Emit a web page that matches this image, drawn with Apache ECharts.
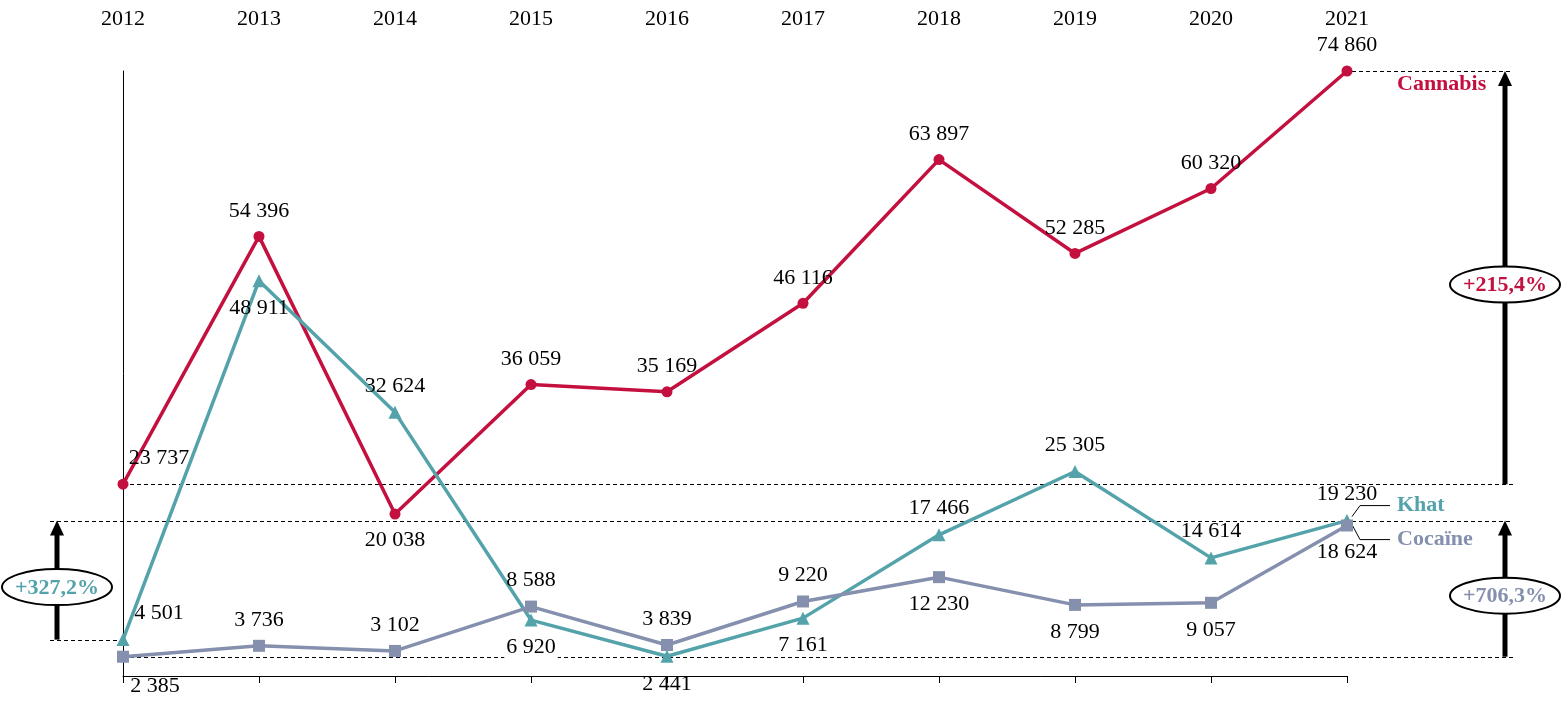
<!DOCTYPE html>
<html>
<head>
<meta charset="utf-8">
<script src="https://cdn.jsdelivr.net/npm/echarts@6.0.0/dist/echarts.min.js"></script>
<style>
html,body{margin:0;padding:0;background:#fff;}
#chart{width:1561px;height:709px;}
</style>
</head>
<body>
<div id="chart"></div>
<script>
// ---- data ----
const years = ['2012','2013','2014','2015','2016','2017','2018','2019','2020','2021'];
const cannabis = [23737, 54396, 20038, 36059, 35169, 46116, 63897, 52285, 60320, 74860];
const khat     = [4501, 48911, 32624, 6920, 2441, 7161, 17466, 25305, 14614, 19230];
const cocaine  = [2385, 3736, 3102, 8588, 3839, 9220, 12230, 8799, 9057, 18624];
const seriesNames = ['Cannabis', 'Khat', 'Cocaïne'];
const growthTexts = ['+215,4%', '+327,2%', '+706,3%'];

// ---- label placement (style, not data) ----
const cannabisLabelPos = ['tr','t','b','t','t','t','t','t','t','t'];
const khatLabelPos     = ['tr','b','t','b','b','b','t','t','t','t'];
const cocaineLabelPos  = ['br','t','t','t','t','t','b','b','b','b'];

const COL_CAN = '#C4103F';
const COL_KHAT = '#54A3AB';
const COL_COC = '#8490AD';
const FONT = '"Liberation Serif", "Times New Roman", serif';
const LBL_SIZE = 22;

function fmt(v){ return String(v).replace(/\B(?=(\d{3})+(?!\d))/g, ' '); }

function labelFor(p){
  const base = {show:true, color:'#000', fontFamily:FONT, fontSize:LBL_SIZE, formatter:(pr)=>fmt(pr.value)};
  if (p === 't') return Object.assign(base, {position:'top', distance:9});
  if (p === 'b') return Object.assign(base, {position:'bottom', distance:10});
  if (p === 'tr') return Object.assign(base, {position:'top', distance:9, offset:[36,0]});
  if (p === 'br') return Object.assign(base, {position:'bottom', distance:10, offset:[32,2]});
  return base;
}
function buildData(vals, pos, bgKeys){
  return vals.map((v,i)=>{
    const lab = labelFor(pos[i]);
    if (bgKeys && bgKeys.indexOf(i) >= 0) { lab.backgroundColor = '#fff'; lab.padding = [0,2]; }
    return {value:v, label:lab};
  });
}

const chart = echarts.init(document.getElementById('chart'), null, {renderer:'canvas'});
const yMax = Math.max.apply(null, cannabis);

chart.setOption({
  animation:false,
  backgroundColor:'#fff',
  grid:{left:123, right:214, top:71, bottom:33, containLabel:false},
  xAxis:[
    {type:'category', data:years, boundaryGap:false, position:'bottom',
     axisLine:{show:true, lineStyle:{color:'#000', width:1}},
     axisTick:{show:true, length:7, lineStyle:{color:'#000'}},
     axisLabel:{show:false}, splitLine:{show:false}},
    {type:'category', data:years, boundaryGap:false, position:'top',
     axisLine:{show:false}, axisTick:{show:false},
     axisLabel:{show:true, margin:41, color:'#000', fontFamily:FONT, fontSize:LBL_SIZE},
     splitLine:{show:false}}
  ],
  yAxis:{type:'value', min:0, max:yMax,
    axisLine:{show:true, lineStyle:{color:'#000', width:1}},
    axisTick:{show:false}, axisLabel:{show:false}, splitLine:{show:false}},
  series:[
    {name:seriesNames[0], type:'line', xAxisIndex:0, data:buildData(cannabis, cannabisLabelPos),
     symbol:'circle', symbolSize:11, lineStyle:{color:COL_CAN, width:3.5}, itemStyle:{color:COL_CAN}, z:3},
    {name:seriesNames[1], type:'line', xAxisIndex:0, data:buildData(khat, khatLabelPos, [3,5]),
     symbol:'triangle', symbolSize:13, lineStyle:{color:COL_KHAT, width:3.5}, itemStyle:{color:COL_KHAT}, z:4},
    {name:seriesNames[2], type:'line', xAxisIndex:0, data:buildData(cocaine, cocaineLabelPos),
     symbol:'rect', symbolSize:12, lineStyle:{color:COL_COC, width:3.5}, itemStyle:{color:COL_COC}, z:5}
  ]
});

// ---- annotations computed from data through the chart scales ----
const last = years.length - 1;
function px(i, v){ return chart.convertToPixel({xAxisIndex:0, yAxisIndex:0}, [years[i], v]); }
const yCanTop = px(last, cannabis[last])[1];
const yCanBase = px(0, cannabis[0])[1];
const yKhatTop = px(last, khat[last])[1];
const yKhatBase = px(0, khat[0])[1];
const yCocBase = px(0, cocaine[0])[1];
const xFirst = px(0, 0)[0];
const xLast = px(last, 0)[0];

const RIGHT_X = 1505, LEFT_X = 57, DASH_END = 1513, DASH_LEFT = 50;
const dash = {stroke:'#000', lineWidth:1, lineDash:[4,3]};
const g = [];
function hline(x1,x2,y){ g.push({type:'line', z:1, shape:{x1:x1,y1:Math.round(y)+0.5,x2:x2,y2:Math.round(y)+0.5}, style:dash, silent:true}); }
hline(xLast+5, DASH_END, yCanTop);
hline(xFirst, DASH_END, yCanBase);
hline(DASH_LEFT, DASH_END, yKhatTop);
hline(DASH_LEFT, xFirst, yKhatBase);
hline(xFirst, DASH_END, yCocBase);

function arrow(x, yTip, yBase){
  g.push({type:'line', z:2, shape:{x1:x, y1:yBase, x2:x, y2:yTip+12}, style:{stroke:'#000', lineWidth:5}});
  g.push({type:'polygon', z:2, shape:{points:[[x-7,yTip+15],[x+7,yTip+15],[x,yTip]]}, style:{fill:'#000'}});
}
function bubble(x, y, text, color){
  g.push({type:'ellipse', z:3, shape:{cx:x, cy:y, rx:55, ry:18}, style:{fill:'#fff', stroke:'#000', lineWidth:2}});
  g.push({type:'text', z:4, x:x, y:y+1, style:{text:text, align:'center', verticalAlign:'middle', fill:color,
    font:'bold 22px ' + FONT}});
}
arrow(RIGHT_X, yCanTop, yCanBase);
bubble(RIGHT_X, (yCanTop+yCanBase)/2 + 7, growthTexts[0], COL_CAN);
arrow(LEFT_X, yKhatTop, yKhatBase);
bubble(LEFT_X, (yKhatTop+yKhatBase)/2 + 7, growthTexts[1], COL_KHAT);
arrow(RIGHT_X, yKhatTop, yCocBase);
bubble(RIGHT_X, (yKhatTop+yCocBase)/2 + 7, growthTexts[2], COL_COC);

// series name labels
g.push({type:'text', z:4, x:1394, y:yCanTop+13, style:{text:seriesNames[0], align:'left', verticalAlign:'middle',
  fill:COL_CAN, font:'bold 22px ' + FONT, backgroundColor:'#fff', padding:[0,3]}});
const yK = yKhatTop;
g.push({type:'polyline', z:4, shape:{points:[[xLast+5,yK-4],[xLast+13,yK-15],[xLast+43,yK-15]]}, style:{stroke:'#000', lineWidth:1, fill:null}});
g.push({type:'polyline', z:4, shape:{points:[[xLast+5,yK+4],[xLast+13,yK+19],[xLast+43,yK+19]]}, style:{stroke:'#000', lineWidth:1, fill:null}});
g.push({type:'text', z:4, x:1395, y:yK-15, style:{text:seriesNames[1], align:'left', verticalAlign:'middle',
  fill:COL_KHAT, font:'bold 22px ' + FONT, backgroundColor:'#fff', padding:[0,2]}});
g.push({type:'text', z:4, x:1395, y:yK+19, style:{text:seriesNames[2], align:'left', verticalAlign:'middle',
  fill:COL_COC, font:'bold 22px ' + FONT, backgroundColor:'#fff', padding:[0,2]}});

chart.setOption({graphic:g});
</script>
</body>
</html>
